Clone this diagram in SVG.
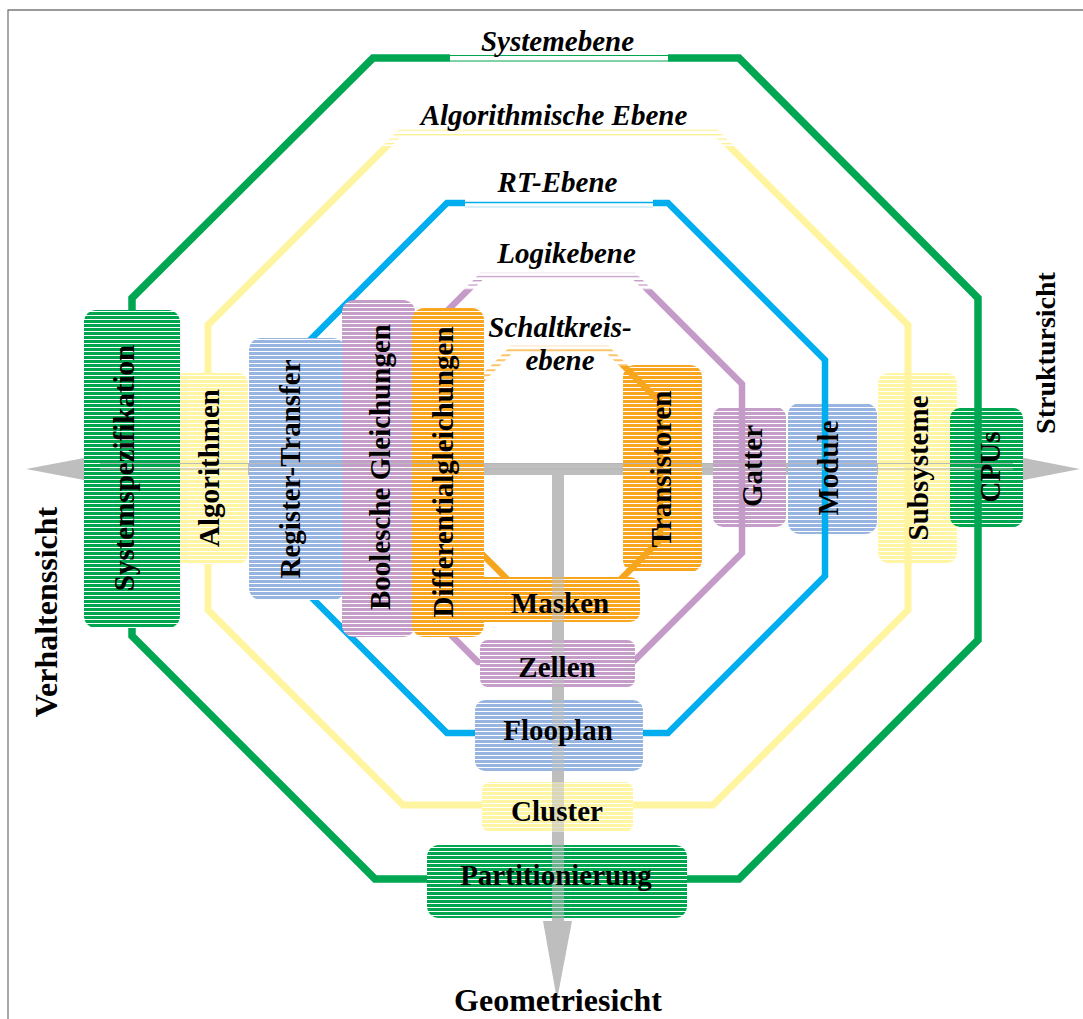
<svg xmlns="http://www.w3.org/2000/svg" width="1083" height="1019" viewBox="0 0 1083 1019">
<defs>
<style>
.t{font-family:"Liberation Serif","Times New Roman",serif;font-weight:bold;font-size:29px;fill:#000;text-anchor:middle}
.i{font-style:italic}
.ax{font-size:32px}
.ov{fill:#BEBEBE;opacity:.55}
</style>
<pattern id="fG" width="10" height="4" patternUnits="userSpaceOnUse"><rect width="10" height="4" fill="#fff"/><rect width="10" height="3" fill="#00A54F"/></pattern>
<pattern id="fY" width="10" height="4" patternUnits="userSpaceOnUse"><rect width="10" height="4" fill="#fff"/><rect width="10" height="3" fill="#FFF5A3"/></pattern>
<pattern id="fB" width="10" height="4" patternUnits="userSpaceOnUse"><rect width="10" height="4" fill="#fff"/><rect width="10" height="3" fill="#97B5E0"/></pattern>
<pattern id="fP" width="10" height="4" patternUnits="userSpaceOnUse"><rect width="10" height="4" fill="#fff"/><rect width="10" height="3" fill="#C59DC9"/></pattern>
<pattern id="fO" width="10" height="4" patternUnits="userSpaceOnUse"><rect width="10" height="4" fill="#fff"/><rect width="10" height="3" fill="#F8A61F"/></pattern>
<pattern id="sY" x="0" y="129.5" width="10" height="4.5" patternUnits="userSpaceOnUse"><rect width="10" height="1.3" fill="#FFF08F"/></pattern>
<pattern id="sP" x="0" y="271.5" width="10" height="4.3" patternUnits="userSpaceOnUse"><rect width="10" height="1.3" fill="#C49BC8"/></pattern>
<pattern id="sO" x="0" y="344.5" width="10" height="5" patternUnits="userSpaceOnUse"><rect width="10" height="1.3" fill="#F7A51D"/></pattern>
<clipPath id="cyT"><rect x="0" y="0" width="1083" height="146"/></clipPath>
<clipPath id="cyB"><rect x="0" y="146" width="1083" height="873"/></clipPath>
<clipPath id="cpT"><rect x="0" y="0" width="1083" height="290"/></clipPath>
<clipPath id="cpB"><rect x="0" y="290" width="1083" height="729"/></clipPath>
<clipPath id="coT"><path d="M0 0 H558 V380 H0 Z M558 0 H1083 V366 H558 Z"/></clipPath>
<clipPath id="coB"><path d="M0 380 H558 V366 H1083 V1019 H0 Z"/></clipPath>
</defs>
<rect width="1083" height="1019" fill="#fff"/>
<path d="M8 1019 V10 H1083" fill="none" stroke="#7a7a7a" stroke-width="1.3"/>

<g id="axes" fill="#BEBEBE">
<rect x="100" y="463" width="913" height="12"/>
<rect x="552" y="463" width="12" height="458"/>
<polygon points="26,469 100,455 100,483"/>
<polygon points="1080,469 1013,456 1013,482"/>
<polygon points="557,1000 543,921 572,921"/>
</g>

<g id="node-transistoren"><rect x="623" y="365" width="79" height="207" rx="12" fill="url(#fO)"/></g>
<g id="node-gatter"><rect x="713" y="407" width="73" height="120" rx="10" fill="url(#fP)"/></g>
<g id="node-module"><rect x="788" y="403" width="89" height="131" rx="12" fill="url(#fB)"/></g>
<g id="node-subsysteme"><rect x="878" y="373" width="79" height="190" rx="10" fill="url(#fY)"/></g>
<g id="node-cpus"><rect x="950" y="408" width="73" height="119" rx="10" fill="url(#fG)"/></g>

<g id="connectors" fill="none">
<path d="M450 58 H373 L132 298 V636 L375 879 H739 L978 640 V298 L739 58 H668" stroke="#00A651" stroke-width="7.5"/>
<path d="M450 55.5 H668 M450 61 H668" stroke="#00A651" stroke-width="1.2"/>
<polygon points="400,133 716,133 908,325 908,610 713,805 403,805 208,610 208,325" stroke="#FFF4A0" stroke-width="7" clip-path="url(#cyB)"/>
<polygon points="400,133 716,133 908,325 908,610 713,805 403,805 208,610 208,325" stroke="url(#sY)" stroke-width="7" clip-path="url(#cyT)"/>
<path d="M465 203 H447 L291 359 V577 L447 733 H668 L825 576 V360 L668 203 H653" stroke="#00AEEF" stroke-width="6.5"/>
<path d="M465 202.5 H653" stroke="#00AEEF" stroke-width="1.3"/>
<path d="M465 207 H653" stroke="#AEE0F6" stroke-width="1"/>
<polygon points="482,276 634,276 742,384 742,553 633,662 478,662 376,560 376,382" stroke="#C49BC8" stroke-width="6.5" clip-path="url(#cpB)"/>
<polygon points="482,276 634,276 742,384 742,553 633,662 478,662 376,560 376,382" stroke="url(#sP)" stroke-width="6.5" clip-path="url(#cpT)"/>
<polygon points="512,349 607,349 660,402 660,540 610,590 518,590 458,530 458,403" stroke="#F7A51D" stroke-width="6.5" clip-path="url(#coB)"/>
<polygon points="512,349 607,349 660,402 660,540 610,590 518,590 458,530 458,403" stroke="url(#sO)" stroke-width="6.5" clip-path="url(#coT)"/>
</g>

<g id="node-algorithmen"><rect x="174" y="373" width="74" height="191" rx="10" fill="url(#fY)"/></g>
<g id="node-systemspezifikation"><rect x="84" y="310" width="96" height="318" rx="12" fill="url(#fG)"/></g>
<g id="node-register-transfer"><rect x="249" y="338" width="96" height="262" rx="12" fill="url(#fB)"/></g>
<g id="node-boolesche"><rect x="342" y="300" width="73" height="337" rx="12" fill="url(#fP)"/></g>
<g id="node-differential"><rect x="412" y="308" width="72" height="329" rx="12" fill="url(#fO)"/></g>
<g id="node-masken"><rect x="470" y="577" width="170" height="45" rx="10" fill="url(#fO)"/><rect class="ov" x="552" y="577" width="12" height="45"/><text class="t" x="560" y="613">Masken</text></g>
<g id="node-zellen"><rect x="480" y="640" width="155" height="47" rx="8" fill="url(#fP)"/><rect class="ov" x="552" y="640" width="12" height="47"/><text class="t" x="557" y="677">Zellen</text></g>
<g id="node-flooplan"><rect x="475" y="700" width="168" height="71" rx="10" fill="url(#fB)"/><rect class="ov" x="552" y="700" width="12" height="71"/><text class="t" x="558" y="740">Flooplan</text></g>
<g id="node-cluster"><rect x="482" y="782" width="151" height="50" rx="8" fill="url(#fY)"/><rect class="ov" x="552" y="782" width="12" height="50"/><text class="t" x="557" y="821">Cluster</text></g>
<g id="node-partitionierung"><rect x="427" y="845" width="260" height="73" rx="12" fill="url(#fG)"/><rect class="ov" x="552" y="845" width="12" height="73"/><text class="t" x="556" y="885">Partitionierung</text></g>

<g id="axis-lines" stroke="#B4B4B4" stroke-width="0.9">
<path d="M100 463.5 H1013 M100 469 H1013"/>
</g>

<g id="vertical-labels">
<text class="t" transform="translate(134,468) rotate(-90)">Systemspezifikation</text>
<text class="t" transform="translate(219,468) rotate(-90)">Algorithmen</text>
<text class="t" transform="translate(300,469) rotate(-90)">Register-Transfer</text>
<text class="t" transform="translate(390,467) rotate(-90)">Boolesche Gleichungen</text>
<text class="t" transform="translate(453,472) rotate(-90)">Differentialgleichungen</text>
<text class="t" transform="translate(671,469) rotate(-90)">Transistoren</text>
<text class="t" transform="translate(762,466) rotate(-90)">Gatter</text>
<text class="t" transform="translate(838,468) rotate(-90)">Module</text>
<text class="t" transform="translate(928,468) rotate(-90)">Subsysteme</text>
<text class="t" transform="translate(1000,467) rotate(-90)">CPUs</text>
</g>

<g id="level-labels">
<text class="t i" x="557.5" y="51">Systemebene</text>
<text class="t i" x="554" y="125">Algorithmische Ebene</text>
<text class="t i" x="557.5" y="192">RT-Ebene</text>
<text class="t i" x="566.5" y="263">Logikebene</text>
<text class="t i" x="560" y="337">Schaltkreis-</text>
<text class="t i" x="560" y="370">ebene</text>
</g>

<g id="axis-labels">
<text class="t ax" transform="translate(57,612) rotate(-90)">Verhaltenssicht</text>
<text class="t" style="font-size:28px" transform="translate(1055,353) rotate(-90)">Struktursicht</text>
<text class="t ax" x="558" y="1011">Geometriesicht</text>
</g>
</svg>
